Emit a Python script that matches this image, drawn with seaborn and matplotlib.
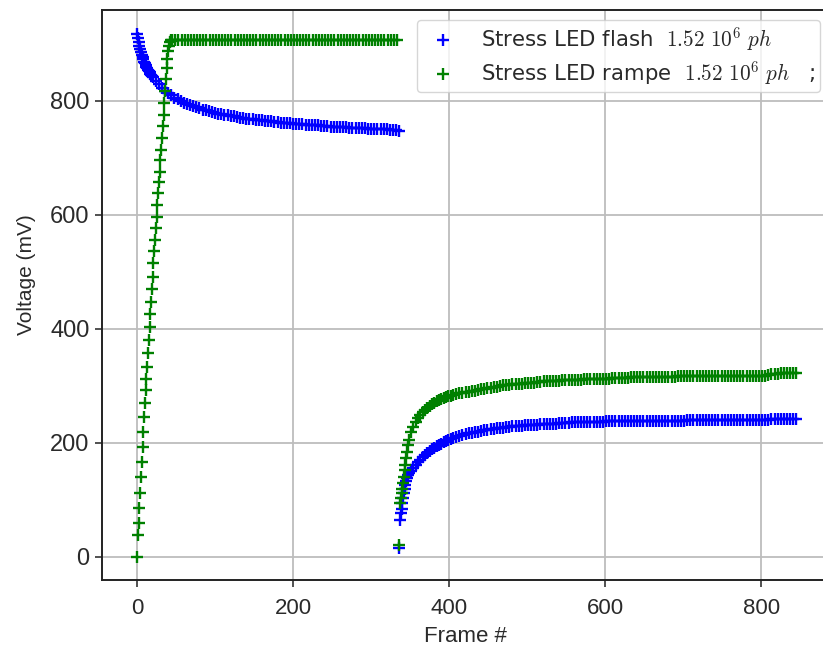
import matplotlib
matplotlib.use("Agg")
import matplotlib.pyplot as plt
import seaborn as sns

# ---------------- data ----------------
# "Stress LED flash" (blue) - stress phase
flash_stress_frames = list(range(0, 20)) + list(range(20, 337, 4))   # 20 + 80
flash_stress_mv = [
    917, 910, 903, 897, 891, 886, 881, 877, 873, 869,
    866, 863, 860, 857, 855, 852, 850, 848, 846, 844,
    842, 835, 829, 823, 818, 814, 810, 806, 803, 800,
    797, 795, 793, 791, 789, 787, 785, 784, 782, 781,
    779, 778, 777, 776, 775, 774, 773, 772, 771, 770,
    769, 768, 768, 767, 766, 766, 765, 764, 764, 763,
    763, 762, 762, 761, 761, 760, 760, 759, 759, 758,
    758, 757, 757, 757, 756, 756, 756, 755, 755, 755,
    754, 754, 754, 753, 753, 753, 752, 752, 752, 751,
    751, 751, 751, 750, 750, 750, 749, 749, 749, 748,
]
# "Stress LED flash" (blue) - recovery phase
flash_recov_frames = (list(range(336, 349)) + list(range(351, 406, 3))
                      + list(range(409, 848, 4)))                    # 13 + 19 + 110
flash_recov_mv = [
    16, 65, 77, 85, 94, 103, 112, 120, 127, 133, 138, 143, 147,
    150, 156, 161, 166, 171, 175, 179, 183, 186, 189, 192, 195, 197,
    199, 201, 203, 205, 207, 209,
    211, 213, 214, 216, 217, 218, 219, 220, 221, 222,
    223, 224, 225, 226, 226, 227, 228, 228, 229, 229,
    230, 230, 231, 231, 232, 232, 232, 233, 233, 233,
    234, 234, 234, 235, 235, 235, 235, 236, 236, 236,
    236, 236, 237, 237, 237, 237, 237, 237, 238, 238,
    238, 238, 238, 238, 238, 238, 238, 238, 238, 238,
    238, 238, 238, 239, 239, 239, 239, 239, 239, 239,
    239, 239, 239, 239, 240, 240, 240, 240, 240, 240,
    240, 240, 240, 240, 240, 240, 240, 240, 241, 241,
    241, 241, 241, 241, 241, 241, 241, 241, 241, 241,
    241, 242, 242, 242, 242, 242, 242, 242, 242, 242,
]

# "Stress LED rampe" (green) - stress phase
rampe_stress_frames = list(range(0, 45)) + list(range(45, 336, 4))   # 45 + 73
rampe_stress_mv = [
    0, 38, 60, 86, 113, 141, 167, 193, 220, 246,
    270, 293, 313, 334, 357, 381, 404, 427, 448, 471,
    492, 515, 536, 556, 577, 597, 618, 638, 657, 676,
    697, 714, 735, 756, 776, 797, 818, 838, 857, 873,
    887, 897, 903, 906, 907,
    907, 907, 907, 907, 907, 907, 907, 907, 907, 907,
    907, 907, 907, 907, 907, 907, 907, 907, 907, 907,
    907, 907, 907, 907, 907, 907, 907, 907, 907, 907,
    907, 907, 907, 907, 907, 907, 907, 907, 907, 907,
    907, 907, 907, 907, 907, 907, 907, 907, 907, 907,
    907, 907, 907, 907, 907, 907, 907, 907, 907, 907,
    907, 907, 907, 907, 907, 907, 907, 907, 907, 907,
    907, 907, 907,
]
# "Stress LED rampe" (green) - recovery phase
rampe_recov_frames = (list(range(336, 349)) + list(range(351, 406, 3))
                      + list(range(409, 848, 4)))                    # 13 + 19 + 110
rampe_recov_mv = [
    21, 94, 103, 112, 120, 129, 141, 153, 161, 173, 185, 196, 205,
    219, 228, 236, 243, 249, 254, 258, 262, 265, 268, 271, 273,
    275, 277, 279, 280, 282, 283, 284,
    286, 287, 288, 289, 290, 291, 292, 293, 294, 295,
    296, 297, 298, 299, 300, 301, 302, 302, 303, 303,
    304, 304, 305, 305, 306, 306, 307, 307, 308, 308,
    308, 309, 309, 309, 310, 310, 310, 311, 311, 311,
    311, 312, 312, 312, 312, 313, 313, 313, 313, 313,
    314, 314, 314, 314, 314, 314, 315, 315, 315, 315,
    315, 315, 315, 316, 316, 316, 316, 316, 316, 316,
    316, 317, 317, 317, 317, 317, 317, 317, 317, 317,
    318, 318, 318, 318, 318, 318, 318, 318, 318, 318,
    318, 318, 318, 318, 318, 318, 318, 318, 318, 318,
    319, 321, 321, 321, 322, 322, 322, 322, 322, 322,
]

flash_label = r"Stress LED flash  $1.52\ 10^6\ ph$"
rampe_label = r"Stress LED rampe  $1.52\ 10^6\ ph$   ;"
x_ticks = [0, 200, 400, 600, 800]
y_ticks = [0, 200, 400, 600, 800]
x_label = "Frame #"
y_label = "Voltage (mV)"

# ---------------- plot ----------------
sns.set_style("ticks")
plt.rcParams["font.family"] = ["DejaVu Sans"]
plt.rcParams["mathtext.fontset"] = "cm"

W, H = 823, 647
fig = plt.figure(figsize=(W / 100, H / 100), dpi=100)
ax = fig.add_axes([102 / W, (H - 580) / H, 728 / W, 570 / H])
ax.set_axisbelow(True)
ax.grid(True, color="#bdbdbd", linewidth=1.3)

flash_x = flash_stress_frames + flash_recov_frames
flash_y = flash_stress_mv + flash_recov_mv
rampe_x = rampe_stress_frames + rampe_recov_frames
rampe_y = rampe_stress_mv + rampe_recov_mv
n1 = min(len(flash_x), len(flash_y))
n2 = min(len(rampe_x), len(rampe_y))

sns.scatterplot(x=flash_x[:n1], y=flash_y[:n1], marker="+", s=70, color="#0000ff",
                linewidth=1.7, ax=ax, label=flash_label, zorder=3)
sns.scatterplot(x=rampe_x[:n2], y=rampe_y[:n2], marker="+", s=70, color="#008000",
                linewidth=1.7, ax=ax, label=rampe_label, zorder=4)

ax.set_xlim(-44.9, 888)
ax.set_ylim(-40.4, 959.6)
ax.set_xticks(x_ticks)
ax.set_yticks(y_ticks)

tick_font = "Liberation Sans"
for lab in ax.get_xticklabels():
    lab.set_fontfamily(tick_font)
    lab.set_fontsize(16)
    lab.set_color("#2a2a2a")
for lab in ax.get_yticklabels():
    lab.set_fontfamily(tick_font)
    lab.set_fontsize(17)
    lab.set_color("#2a2a2a")
ax.tick_params(axis="x", length=5, width=1.1, pad=8, color="#222222")
ax.tick_params(axis="y", length=5, width=1.1, pad=4, color="#222222")

for sp in ax.spines.values():
    sp.set_visible(True)
    sp.set_color("#222222")
    sp.set_linewidth(1.4)

ax.set_xlabel(x_label, fontfamily=tick_font, fontsize=16, color="#2a2a2a")
ax.set_ylabel(y_label, fontfamily=tick_font, fontsize=15, color="#2a2a2a")
ax.xaxis.set_label_coords(0.4986, (580 - 626) / 570)
ax.yaxis.set_label_coords((36 - 102) / 728, (580 - 275) / 570)

leg = ax.legend(loc="upper right", fontsize=15.3, framealpha=0.8,
                edgecolor="#cccccc", fancybox=True, borderaxespad=0.45,
                labelspacing=0.3, handletextpad=0.75, borderpad=0.25)
for t in leg.get_texts():
    t.set_color("#2a2a2a")

fig.savefig("out.png", dpi=100)
